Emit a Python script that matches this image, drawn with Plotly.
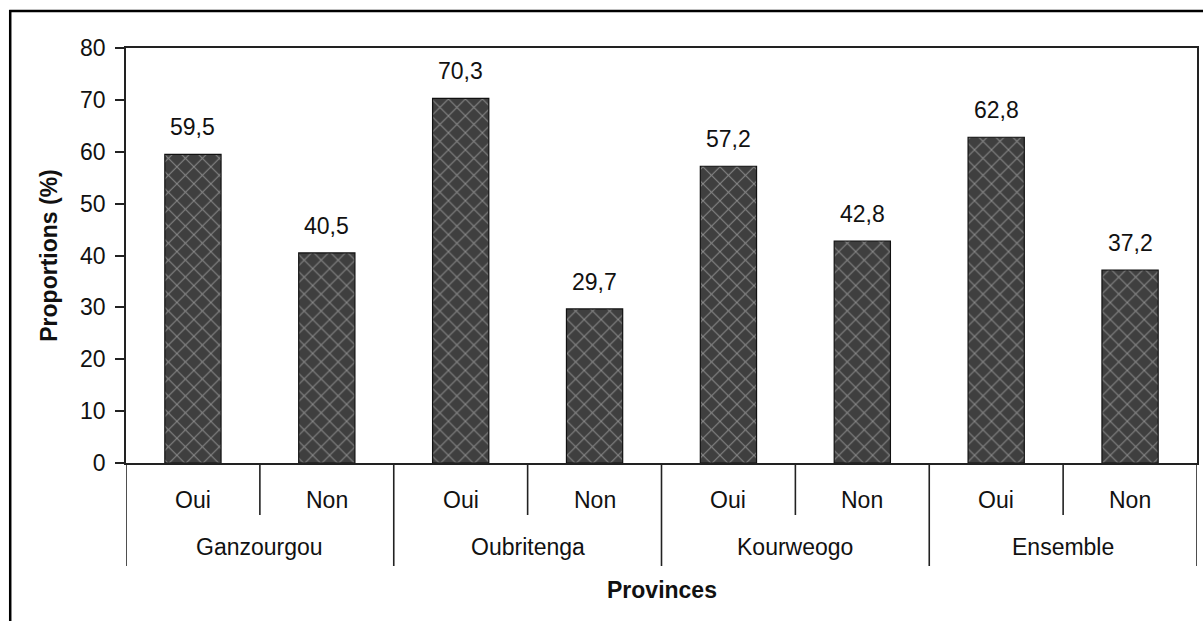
import plotly.graph_objects as go

# Survey answers per province (percentages)
provinces = ["Ganzourgou", "Oubritenga", "Kourweogo", "Ensemble"]
answers = ["Oui", "Non"]
proportions = [59.5, 40.5, 70.3, 29.7, 57.2, 42.8, 62.8, 37.2]

answer_level = [a for _ in provinces for a in answers]
positions = list(range(len(proportions)))
labels = [f"{v:.1f}".replace(".", ",") for v in proportions]

W, H = 1203, 621
L, R, T, B = 126, 4, 48, 158
pw, ph = W - L - R, H - T - B
FONT = "Liberation Sans, Arial"
FS = 23
AXIS = "#222"


def px_x(px):
    return (px - L) / pw


def px_y(py):
    return (H - B - py) / ph


fig = go.Figure(
    go.Bar(
        x=positions,
        y=proportions,
        width=0.42,
        marker=dict(
            color="#3f3f3f",
            line=dict(color="#111", width=1.2),
            pattern=dict(shape="x", fgcolor="#d4d4d4", bgcolor="#3f3f3f",
                         size=12, solidity=0.16),
        ),
        hoverinfo="skip",
    )
)

# value labels above each bar
for x, v, t in zip(positions, proportions, labels):
    fig.add_annotation(x=x, y=v, text=t, showarrow=False,
                       yanchor="bottom", yshift=12,
                       font=dict(family=FONT, size=FS, color="#111"))

# first level of the category axis: Oui / Non
for x, a in zip(positions, answer_level):
    fig.add_annotation(x=x, y=px_y(500), yref="paper", text=a, showarrow=False,
                       yanchor="middle", font=dict(family=FONT, size=FS, color="#111"))
    if a == answers[0]:
        # short divider between the two answers of a province
        fig.add_shape(type="line", xref="x", yref="paper",
                      x0=x + 0.5, x1=x + 0.5, y0=0, y1=px_y(515),
                      line=dict(color=AXIS, width=1.6))

# second level: province names with long dividers
for i, p in enumerate(provinces):
    centre = 2 * i + 0.5
    fig.add_annotation(x=centre, y=px_y(547), yref="paper", text=p, showarrow=False,
                       yanchor="middle", font=dict(family=FONT, size=FS, color="#111"))
for k in range(len(provinces) + 1):
    xb = 2 * k - 0.5
    fig.add_shape(type="line", xref="x", yref="paper",
                  x0=xb, x1=xb, y0=0, y1=px_y(566),
                  line=dict(color=AXIS, width=1.6))

# x axis title
fig.add_annotation(x=0.5, xref="paper", y=px_y(590), yref="paper",
                   text="<b>Provinces</b>", showarrow=False, yanchor="middle",
                   font=dict(family=FONT, size=FS, color="#111"))

# outer frame (left and top edges)
fig.add_shape(type="line", xref="paper", yref="paper",
              x0=px_x(10), x1=px_x(10), y0=px_y(10), y1=px_y(H + 5),
              line=dict(color="black", width=2.5))
fig.add_shape(type="line", xref="paper", yref="paper",
              x0=px_x(9), x1=px_x(W + 5), y0=px_y(11), y1=px_y(11),
              line=dict(color="black", width=2.5))

fig.update_layout(
    width=W, height=H,
    margin=dict(l=L, r=R, t=T, b=B),
    paper_bgcolor="white", plot_bgcolor="white",
    showlegend=False,
    font=dict(family=FONT, size=FS, color="#111"),
    xaxis=dict(
        range=[-0.5, len(proportions) - 0.5],
        showticklabels=False, ticks="", showgrid=False, zeroline=False,
        showline=True, linecolor=AXIS, linewidth=1.6, mirror=True,
        fixedrange=True,
    ),
    yaxis=dict(
        range=[0, 80], dtick=10, tick0=0,
        showgrid=False, zeroline=False,
        showline=True, linecolor=AXIS, linewidth=1.6, mirror=True,
        ticks="outside", ticklen=9, tickwidth=1.6, tickcolor=AXIS,
        ticklabelstandoff=5,
        tickfont=dict(family=FONT, size=FS, color="#111"),
        title=dict(text="<b>Proportions (%)</b>",
                   font=dict(family=FONT, size=FS, color="#111"), standoff=16),
        fixedrange=True,
    ),
)

fig.write_html("out.html")
